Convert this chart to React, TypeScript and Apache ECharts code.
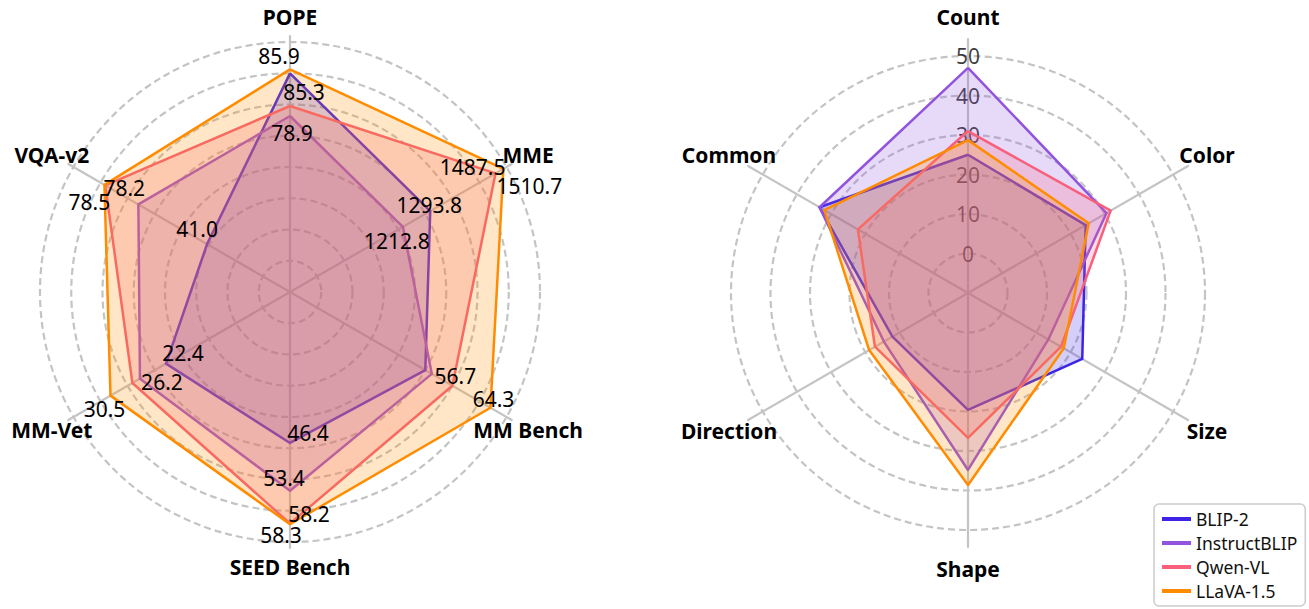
import React, { useEffect, useRef } from 'react';
import * as echarts from 'echarts';

const FONT = '"Noto Sans", "DejaVu Sans", sans-serif';

const SERIES_NAMES = ['BLIP-2', 'InstructBLIP', 'Qwen-VL', 'LLaVA-1.5'];
const SERIES_COLORS = ['#3d24e6', '#9254de', '#f8607d', '#ff8c00'];

// ---- Left chart: benchmarks (counter-clockwise from top) ----
const BENCH_AXES = ['POPE', 'VQA-v2', 'MM-Vet', 'SEED Bench', 'MM Bench', 'MME'];
const BENCH_MIN = [52.5, 10.7, 4.3, 24.3, 24.3, 878];
const BENCH_MAX = [90, 89.8, 35.9, 60.9, 67.5, 1520];

const BLIP2_BENCH = [85.3, 41.0, 22.4, 46.4, 51.3, 1293.8];
const INSTRUCTBLIP_BENCH = [78.9, 66.1, 26.2, 53.4, 52.6, 1212.8];
const QWENVL_BENCH = [80.4, 78.2, 27.3, 58.2, 56.7, 1487.5];
const LLAVA_BENCH = [85.9, 78.5, 30.5, 58.3, 64.3, 1510.7];

// which benchmark values carry a printed number
const BLIP2_SHOWN = [true, true, true, true, false, true];
const INSTRUCTBLIP_SHOWN = [true, false, true, true, false, true];
const QWENVL_SHOWN = [false, true, false, true, true, true];
const LLAVA_SHOWN = [true, true, true, true, true, true];

// ---- Right chart: skills ----
const SKILL_AXES = ['Count', 'Common', 'Direction', 'Shape', 'Size', 'Color'];
const SKILL_MIN = -10;
const SKILL_MAX = 50;
const SKILL_SPLITS = 6;

const BLIP2_SKILL = [25, 33.4, 12.1, 19.6, 23.4, 24.4];
const INSTRUCTBLIP_SKILL = [47, 33.4, 14.6, 34.8, 13.5, 30.5];
const QWENVL_SKILL = [31, 22.2, 17.2, 26.7, 17.2, 31.7];
const LLAVA_SKILL = [28.7, 32, 18.9, 38.6, 18, 25.3];

// ---- label placement (style): offset of each printed number from its vertex ----
const LABEL_OFFSETS: ([number, number] | null)[][] = [
  [[14, 19], [-10, -15], [17, -11], [18, -10], null, [-1, -6]],
  [[2, 17], null, [22, 3], [-6, -13], null, [-6, 14]],
  [null, [19, 3], null, [19, -10], [3, -10], [-23, -6]],
  [[-11, -13], [-15, 17], [-6, 13], [-9, 11], [3, -9], [26, 17]],
];

const BENCH_DATA = [BLIP2_BENCH, INSTRUCTBLIP_BENCH, QWENVL_BENCH, LLAVA_BENCH];
const BENCH_SHOWN = [BLIP2_SHOWN, INSTRUCTBLIP_SHOWN, QWENVL_SHOWN, LLAVA_SHOWN];
const SKILL_DATA = [BLIP2_SKILL, INSTRUCTBLIP_SKILL, QWENVL_SKILL, LLAVA_SKILL];

const GRID_COLOR = '#c4c4c4';

function buildOption(): any {
  const baseRadar = {
    shape: 'circle',
    splitArea: { show: false },
    axisLine: { show: false },
    axisTick: { show: false },
    splitLine: { lineStyle: { color: GRID_COLOR, width: 2.2, type: [7, 4] } },
    axisName: {
      color: '#000',
      fontFamily: FONT,
      fontSize: 21,
      fontWeight: 'bold',
      align: 'center',
      verticalAlign: 'middle',
    },
  };
  const spokeRadar = {
    shape: 'circle',
    splitArea: { show: false },
    splitLine: { show: false },
    axisTick: { show: false },
    axisLabel: { show: false },
    axisName: { show: false },
    axisLine: { show: true, lineStyle: { color: GRID_COLOR, width: 2.2 } },
  };

  const makeData = (arrs: number[][]) =>
    arrs.map((vals, k) => ({
      name: SERIES_NAMES[k],
      value: vals,
      symbol: 'none',
      lineStyle: { color: SERIES_COLORS[k], width: 2.5 },
      areaStyle: { color: SERIES_COLORS[k], opacity: 0.22 },
      itemStyle: { color: SERIES_COLORS[k] },
    }));

  return {
    animation: false,
    backgroundColor: '#ffffff',
    radar: [
      {
        ...baseRadar,
        center: [290, 292],
        radius: 250,
        splitNumber: 8,
        nameGap: 25,
        indicator: BENCH_AXES.map((n, i) => ({ name: n, min: BENCH_MIN[i], max: BENCH_MAX[i] })),
      },
      {
        ...baseRadar,
        center: [968, 293],
        radius: 237,
        splitNumber: SKILL_SPLITS,
        nameGap: 39,
        axisLabel: {
          show: false,
          color: '#1a1a1a',
          opacity: 0.85,
          fontFamily: FONT,
          fontSize: 21,
          margin: 0,
          align: 'center',
          verticalAlign: 'middle',
          formatter: (v: number) => (v < 0 ? '' : String(v)),
        },
        indicator: SKILL_AXES.map((n, i) =>
          i === 0
            ? { name: n, min: SKILL_MIN, max: SKILL_MAX, axisLabel: { show: true } }
            : { name: n, min: SKILL_MIN, max: SKILL_MAX }
        ),
      },
      {
        ...spokeRadar,
        center: [290, 292],
        radius: 256,
        indicator: BENCH_AXES.map((n) => ({ name: n, min: 0, max: 1 })),
      },
      {
        ...spokeRadar,
        center: [968, 293],
        radius: 254,
        indicator: SKILL_AXES.map((n) => ({ name: n, min: 0, max: 1 })),
      },
    ],
    legend: {
      orient: 'vertical',
      left: 1154,
      top: 504,
      padding: [6, 8, 6, 8],
      itemGap: 6,
      itemWidth: 29,
      itemHeight: 4,
      icon: 'rect',
      borderColor: '#cccccc',
      borderWidth: 1.5,
      borderRadius: 5,
      data: SERIES_NAMES,
      textStyle: { fontSize: 17.5, fontFamily: FONT, color: '#111' },
    },
    series: [
      { type: 'radar', radarIndex: 0, symbol: 'none', data: makeData(BENCH_DATA) },
      { type: 'radar', radarIndex: 1, symbol: 'none', data: makeData(SKILL_DATA) },
    ],
  };
}

export default function App() {
  const ref = useRef<HTMLDivElement>(null);
  useEffect(() => {
    if (!ref.current) return;
    const chart = echarts.init(ref.current, undefined, { renderer: 'svg' });
    chart.setOption(buildOption());

    // Printed values, placed via the radar's own coordinate system
    try {
      const model = (chart as any).getModel();
      const cs = model.getComponent('radar', 0).coordinateSystem;
      const texts: any[] = [];
      BENCH_DATA.forEach((vals, k) => {
        vals.forEach((v, i) => {
          if (!BENCH_SHOWN[k][i]) return;
          const off = LABEL_OFFSETS[k][i] || [0, 0];
          const p = cs.dataToPoint(v, i);
          texts.push({
            type: 'text',
            x: p[0] + off[0],
            y: p[1] + off[1],
            z: 100,
            style: {
              text: v.toFixed(1),
              fontSize: 21,
              fontFamily: FONT,
              fill: '#000',
              align: 'center',
              verticalAlign: 'middle',
            },
          });
        });
      });
      chart.setOption({ graphic: texts });
    } catch (e) {
      // ignore
    }

    return () => chart.dispose();
  }, []);
  return (
    <div
      ref={ref}
      style={{ position: 'absolute', left: 0, top: 0, width: 1309, height: 609 }}
    />
  );
}
